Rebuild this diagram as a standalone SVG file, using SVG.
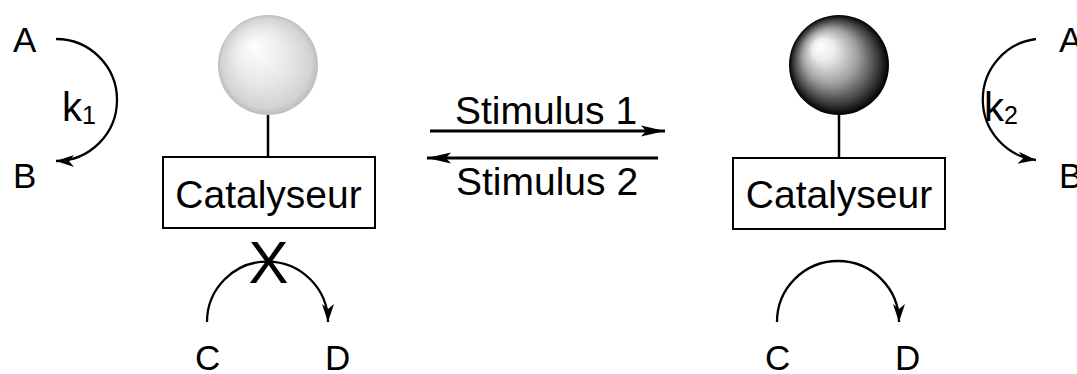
<svg xmlns="http://www.w3.org/2000/svg" width="1077" height="374" viewBox="0 0 1077 374">
  <style>
    text { font-family: "Liberation Sans", Arial, Helvetica, sans-serif; fill: #000; }
    .lbl { font-size: 35px; }
    .cat { font-size: 39px; }
    .stim { font-size: 39px; }
    .k { font-size: 40px; }
    .sub { font-size: 25px; }
    .box { fill: #fff; stroke: #000; stroke-width: 2; }
    .stem { stroke: #000; stroke-width: 2.5; }
    .arc { fill: none; stroke: #000; stroke-width: 2.3; }
    .rxn { fill: none; stroke: #000; stroke-width: 3; }
  </style>
  <defs>
    <radialGradient id="gLight" cx="0.5" cy="0.5" r="0.5" fx="0.35" fy="0.3">
      <stop offset="0" stop-color="#ffffff"/>
      <stop offset="0.55" stop-color="#e8e8e8"/>
      <stop offset="0.9" stop-color="#d2d2d2"/>
      <stop offset="1" stop-color="#bdbdbd"/>
    </radialGradient>
    <radialGradient id="gDark" cx="0.5" cy="0.5" r="0.5" fx="0.3" fy="0.3">
      <stop offset="0" stop-color="#ffffff"/>
      <stop offset="0.22" stop-color="#ececec"/>
      <stop offset="0.55" stop-color="#a0a0a0"/>
      <stop offset="0.85" stop-color="#3a3a3a"/>
      <stop offset="1" stop-color="#000000"/>
    </radialGradient>
    <marker id="ahArc" markerUnits="userSpaceOnUse" viewBox="-20 -8 22 16" refX="0" refY="0" markerWidth="22" markerHeight="16" orient="auto" overflow="visible">
      <path d="M0,0 L-18,-6 L-13,0 L-18,6 Z" fill="#000"/>
    </marker>
    <marker id="ahLine" markerUnits="userSpaceOnUse" viewBox="-26 -7 28 14" refX="0" refY="0" markerWidth="28" markerHeight="14" orient="auto" overflow="visible">
      <path d="M0,0 L-24,-5.5 L-19,0 L-24,5.5 Z" fill="#000"/>
    </marker>
  </defs>

  <g id="connectors">
    <path id="arc-AB-left" class="arc" d="M56 39 A61 61 0 0 1 56 161" marker-end="url(#ahArc)"/>
    <path id="arc-CD-left" class="arc" d="M207 322 A60.5 60.5 0 0 1 328 322" marker-end="url(#ahArc)"/>
    <path id="arc-CD-right" class="arc" d="M777 322 A61 61 0 0 1 899 322" marker-end="url(#ahArc)"/>
    <path id="arc-AB-right" class="arc" d="M1036 39 A61 61 0 0 0 1036 160" marker-end="url(#ahArc)"/>
    <line id="arrow-stim1" class="rxn" x1="430" y1="131" x2="665" y2="131" marker-end="url(#ahLine)"/>
    <line id="arrow-stim2" class="rxn" x1="658" y1="158" x2="427" y2="158" marker-end="url(#ahLine)"/>
  </g>

  <g id="node-A-left"><text class="lbl" x="13" y="52">A</text></g>
  <g id="node-B-left"><text class="lbl" x="13" y="188">B</text></g>
  <g id="label-k1"><text class="k" x="62" y="121">k<tspan class="sub" dy="3">1</tspan></text></g>

  <g id="node-catalyst-left">
    <circle cx="268" cy="65" r="50" fill="url(#gLight)"/>
    <line class="stem" x1="268" y1="115" x2="268" y2="157"/>
    <rect class="box" x="163" y="157" width="212" height="71"/>
    <text class="cat" x="268.5" y="208" text-anchor="middle">Catalyseur</text>
  </g>
  <g id="label-X"><text x="268.5" y="283" text-anchor="middle" style="font-size:60px">X</text></g>
  <g id="node-C-left"><text class="lbl" x="195" y="370">C</text></g>
  <g id="node-D-left"><text class="lbl" x="325" y="370">D</text></g>

  <g id="label-stim1"><text class="stim" x="455" y="124">Stimulus 1</text></g>
  <g id="label-stim2"><text class="stim" x="456" y="195">Stimulus 2</text></g>

  <g id="node-catalyst-right">
    <circle cx="839" cy="65" r="50" fill="url(#gDark)"/>
    <line class="stem" x1="839" y1="115" x2="839" y2="157"/>
    <rect class="box" x="733" y="158" width="212" height="71"/>
    <text class="cat" x="839" y="208" text-anchor="middle">Catalyseur</text>
  </g>
  <g id="node-C-right"><text class="lbl" x="765" y="370">C</text></g>
  <g id="node-D-right"><text class="lbl" x="895" y="370">D</text></g>

  <g id="node-A-right"><text class="lbl" x="1059" y="52">A</text></g>
  <g id="node-B-right"><text class="lbl" x="1059" y="188">B</text></g>
  <g id="label-k2"><text class="k" x="984" y="121">k<tspan class="sub" dy="3">2</tspan></text></g>
</svg>
